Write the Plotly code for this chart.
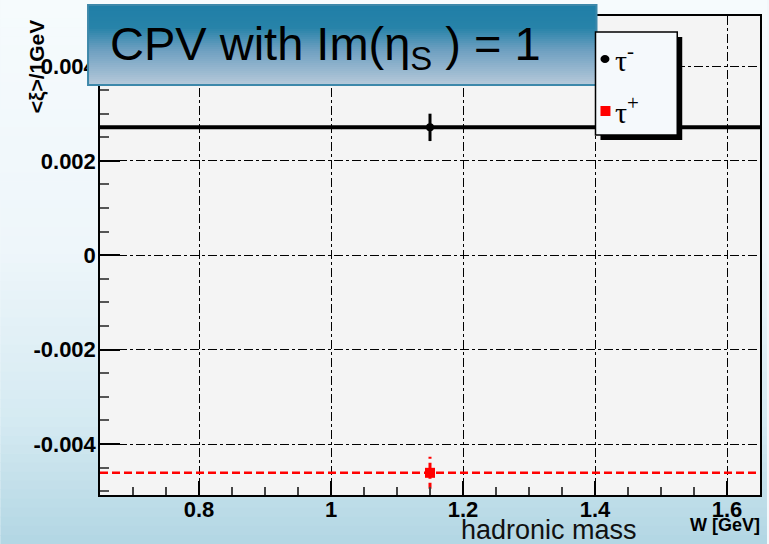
import plotly.graph_objects as go

# ---------------- data ----------------
x_bins = [1.15]
tau_minus_vals = [0.00271]
tau_minus_errs = [0.00029]
tau_plus_vals = [-0.00461]
tau_plus_errs = [0.00034]
x_range = [0.65, 1.65]
y_range = [-0.00508, 0.00507]
x_tick_vals = [0.8, 1.0, 1.2, 1.4, 1.6]
x_tick_text = ["0.8", "1", "1.2", "1.4", "1.6"]
y_tick_vals = [-0.004, -0.002, 0, 0.002, 0.004]
y_tick_text = ["-0.004", "-0.002", "0", "0.002", "0.004"]
legend_labels = ["τ<sup>-</sup>", "τ<sup>+</sup>"]
title_text = "CPV with Im(η<sub>S</sub> ) = 1"

# ---------------- geometry helpers ----------------
W, H = 769, 544
L, R, T, B = 100, 7, 16, 49
PW, PH = W - L - R, H - T - B


def px(x):
    return (x - L) / PW


def py(y):
    return (H - B - y) / PH


def hex2rgb(h):
    h = h.lstrip("#")
    return tuple(int(h[i:i + 2], 16) for i in (0, 2, 4))


def interp(stops, v):
    for (a, ca), (b, cb) in zip(stops, stops[1:]):
        if a <= v <= b:
            t = (v - a) / (b - a) if b > a else 0
            c1, c2 = hex2rgb(ca), hex2rgb(cb)
            return "rgb(%d,%d,%d)" % tuple(round(c1[i] + (c2[i] - c1[i]) * t) for i in range(3))
    return stops[-1][1]


shapes = []
# page background gradient
page_stops = [(0, "#f6fbfd"), (250, "#eef6fa"), (420, "#d5eaf2"), (544, "#b2d6e3")]
N = 60
for i in range(N):
    y0 = i * H / N
    y1 = (i + 1) * H / N + 0.5
    shapes.append(dict(type="rect", xref="paper", yref="paper",
                       x0=px(0), x1=px(W), y0=py(y1), y1=py(y0),
                       fillcolor=interp(page_stops, (y0 + y1) / 2),
                       line=dict(width=0), layer="below"))
# plot area background
shapes.append(dict(type="rect", xref="paper", yref="paper", x0=0, x1=1, y0=0, y1=1,
                   fillcolor="#f4f4f4", line=dict(width=0), layer="below"))

# title box gradient
tb_x0, tb_x1, tb_y0, tb_y1 = 88, 598, 5, 85
title_stops = [(5, "#1f7ea7"), (28, "#2783a9"), (50, "#6d9fc0"), (85, "#b6c9da")]
M = 40
for i in range(M):
    y0 = tb_y0 + i * (tb_y1 - tb_y0) / M
    y1 = tb_y0 + (i + 1) * (tb_y1 - tb_y0) / M + 0.4
    shapes.append(dict(type="rect", xref="paper", yref="paper",
                       x0=px(tb_x0), x1=px(tb_x1), y0=py(y1), y1=py(y0),
                       fillcolor=interp(title_stops, (y0 + y1) / 2),
                       line=dict(width=0), layer="above"))
shapes.append(dict(type="rect", xref="paper", yref="paper",
                   x0=px(tb_x0), x1=px(tb_x1), y0=py(tb_y1), y1=py(tb_y0),
                   fillcolor="rgba(0,0,0,0)", line=dict(color="#3d88aa", width=2), layer="above"))

# legend box with shadow
lg_x0, lg_x1, lg_y0, lg_y1 = 597, 679, 32, 135
shapes.append(dict(type="rect", xref="paper", yref="paper",
                   x0=px(lg_x0 + 5), x1=px(lg_x1 + 5), y0=py(lg_y1 + 5), y1=py(lg_y0 + 5),
                   fillcolor="black", line=dict(width=0), layer="above"))
shapes.append(dict(type="rect", xref="paper", yref="paper",
                   x0=px(lg_x0), x1=px(lg_x1), y0=py(lg_y1), y1=py(lg_y0),
                   fillcolor="#f5f9fc", line=dict(color="black", width=1.5), layer="above"))
# legend symbols
shapes.append(dict(type="circle", xref="paper", yref="paper",
                   x0=px(602), x1=px(611), y0=py(63), y1=py(55),
                   fillcolor="black", line=dict(width=0), layer="above"))
shapes.append(dict(type="rect", xref="paper", yref="paper",
                   x0=px(602), x1=px(612), y0=py(116), y1=py(106),
                   fillcolor="#ff0000", line=dict(width=0), layer="above"))

fig = go.Figure()

# fit lines (constant across the range)
fig.add_trace(go.Scatter(x=x_range, y=[tau_minus_vals[0]] * 2, mode="lines",
                         line=dict(color="black", width=4), hoverinfo="skip", showlegend=False))
fig.add_trace(go.Scatter(x=x_range, y=[tau_plus_vals[0]] * 2, mode="lines",
                         line=dict(color="#ff0000", width=2.5, dash="8px,4px"),
                         hoverinfo="skip", showlegend=False))

# error bars
for xv, v, e in zip(x_bins, tau_minus_vals, tau_minus_errs):
    fig.add_trace(go.Scatter(x=[xv, xv], y=[v - e, v + e], mode="lines",
                             line=dict(color="black", width=3), showlegend=False))
for xv, v, e in zip(x_bins, tau_plus_vals, tau_plus_errs):
    fig.add_trace(go.Scatter(x=[xv, xv], y=[v - e, v + e], mode="lines",
                             line=dict(color="#ff0000", width=3, dash="6px,4px"), showlegend=False))

# points
fig.add_trace(go.Scatter(x=x_bins, y=tau_minus_vals, mode="markers",
                         marker=dict(color="black", size=8, symbol="circle"),
                         name="tau-", showlegend=False))
fig.add_trace(go.Scatter(x=x_bins, y=tau_plus_vals, mode="markers",
                         marker=dict(color="#ff0000", size=10, symbol="square"),
                         name="tau+", showlegend=False))

tickfont = dict(family="Liberation Sans", size=22, color="black", weight="bold")

fig.update_xaxes(range=x_range, tickvals=x_tick_vals, ticktext=x_tick_text,
                 ticks="inside", ticklen=14, tickwidth=1.5, tickcolor="black",
                 showgrid=True, gridcolor="black", griddash="dashdot", gridwidth=1,
                 showline=True, mirror=True, linecolor="black", linewidth=1.5,
                 zeroline=False, tickfont=tickfont, ticklabelstandoff=-6,
                 minor=dict(dtick=0.05, tick0=0.65, ticks="inside", ticklen=8,
                            tickcolor="#444", showgrid=False))
fig.update_yaxes(range=y_range, tickvals=y_tick_vals, ticktext=y_tick_text,
                 ticks="inside", ticklen=20, tickwidth=1.5, tickcolor="black",
                 showgrid=True, gridcolor="black", griddash="dashdot", gridwidth=1,
                 showline=True, mirror=True, linecolor="black", linewidth=1.5,
                 zeroline=False, tickfont=tickfont, ticklabelstandoff=-2,
                 minor=dict(dtick=0.0005, tick0=0, ticks="inside", ticklen=9,
                            tickcolor="#555", showgrid=False))

annotations = [
    dict(text=title_text, xref="paper", yref="paper", x=px(108), y=py(47),
         xanchor="left", yanchor="middle", showarrow=False,
         font=dict(family="Liberation Sans", size=47, color="black")),
    dict(text="&lt;ξ&gt;/1GeV", xref="paper", yref="paper", x=px(36), y=py(67),
         xanchor="center", yanchor="middle", textangle=-90, showarrow=False,
         font=dict(family="Liberation Sans", size=21, color="black", weight="bold")),
    dict(text="hadronic mass", xref="paper", yref="paper", x=px(550), y=py(530),
         xanchor="center", yanchor="middle", showarrow=False,
         font=dict(family="Liberation Sans", size=27, color="#111111")),
    dict(text="W [GeV]", xref="paper", yref="paper", x=px(727), y=py(525),
         xanchor="center", yanchor="middle", showarrow=False,
         font=dict(family="Liberation Sans", size=18, color="black", weight="bold")),
    dict(text=legend_labels[0], xref="paper", yref="paper", x=px(615), y=py(58),
         xanchor="left", yanchor="middle", showarrow=False,
         font=dict(family="Liberation Serif", size=30, color="black")),
    dict(text=legend_labels[1], xref="paper", yref="paper", x=px(615), y=py(110),
         xanchor="left", yanchor="middle", showarrow=False,
         font=dict(family="Liberation Serif", size=30, color="black")),
]

fig.update_layout(width=W, height=H, margin=dict(l=L, r=R, t=T, b=B, pad=0),
                  paper_bgcolor="#f2f8fb", plot_bgcolor="#f4f4f4",
                  shapes=shapes, annotations=annotations, showlegend=False)

fig.write_html("out.html")
